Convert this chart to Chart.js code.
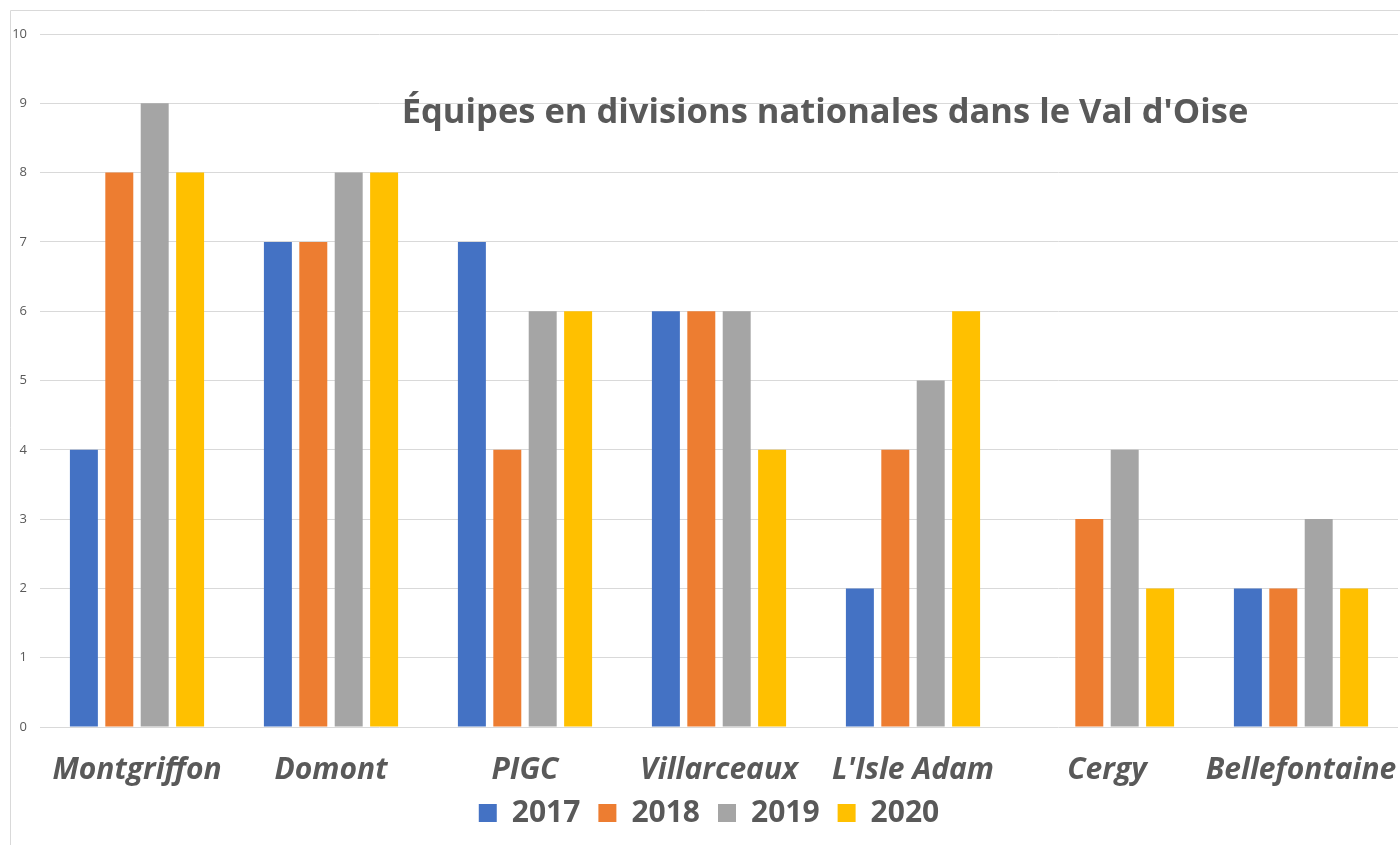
<!DOCTYPE html>
<html>
<head>
<meta charset="utf-8">
<script src="https://cdn.jsdelivr.net/npm/chart.js@4.4.1/dist/chart.umd.min.js"></script>
<style>
  html, body { margin: 0; padding: 0; background: #fff; }
  #wrap { position: relative; width: 1400px; height: 845px; }
</style>
</head>
<body>
<div id="wrap"><canvas id="chart" width="1400" height="845"></canvas></div>
<script>
const clubs = ["Montgriffon", "Domont", "PIGC", "Villarceaux", "L'Isle Adam", "Cergy", "Bellefontaine"];
const years = ["2017", "2018", "2019", "2020"];
const teams2017 = [4, 7, 7, 6, 2, null, 2];
const teams2018 = [8, 7, 4, 6, 4, 3, 2];
const teams2019 = [9, 8, 6, 6, 5, 4, 3];
const teams2020 = [8, 8, 6, 4, 6, 2, 2];
const yTicks = [0, 1, 2, 3, 4, 5, 6, 7, 8, 9, 10];
const titleText = "Équipes en divisions nationales dans le Val d'Oise";

const colors = ["#4472C4", "#ED7D31", "#A5A5A5", "#FFC000"];
const textGray = "#595959";
const gridGray = "#d9d9d9";
const FONT = "'Open Sans'";

// Excel-style frame, title floating inside the plot, legend/label nudges
const decorPlugin = {
  id: "decor",
  afterLayout(chart) {
    const lg = chart.legend;
    lg.left += 10; lg.right += 10;
    lg.top -= 7; lg.bottom -= 7;
    chart.scales.x.bottom += 25; // don't clip descenders of the x labels
  },
  beforeDraw(chart) {
    const ctx = chart.ctx;
    ctx.save();
    ctx.strokeStyle = gridGray;
    ctx.lineWidth = 1;
    ctx.beginPath();
    ctx.moveTo(10.5, 845);
    ctx.lineTo(10.5, 10.5);
    ctx.lineTo(1400, 10.5);
    ctx.stroke();
    ctx.restore();
  },
  afterDraw(chart) {
    const { ctx, chartArea } = chart;
    ctx.save();
    ctx.font = "bold 34.5px " + FONT;
    ctx.fillStyle = textGray;
    ctx.textAlign = "center";
    ctx.textBaseline = "middle";
    ctx.fillText(titleText, chartArea.left + 785, chartArea.top + 79);
    ctx.restore();
  }
};

const seriesValues = [teams2017, teams2018, teams2019, teams2020];

new Chart(document.getElementById("chart"), {
  type: "bar",
  data: {
    labels: clubs,
    datasets: years.map((y, i) => ({
      label: y,
      data: seriesValues[i],
      backgroundColor: colors[i],
      borderWidth: 0,
      categoryPercentage: 0.73,
      barPercentage: 0.79,
    })),
  },
  options: {
    responsive: false,
    animation: false,
    layout: { padding: { top: 34, left: 0, right: 2, bottom: 0 } },
    plugins: {
      title: { display: false },
      tooltip: { enabled: false },
      legend: {
        position: "bottom",
        labels: {
          boxWidth: 18,
          boxHeight: 18,
          padding: 18,
          color: textGray,
          font: { family: FONT, size: 30, weight: "bold" },
        },
      },
    },
    scales: {
      x: {
        grid: { display: false, drawTicks: false },
        border: { display: false },
        ticks: {
          color: textGray,
          padding: 25,
          maxRotation: 0,
          autoSkip: false,
          font: { family: FONT, size: 30, weight: "bold", style: "italic" },
        },
        afterFit(scale) {
          scale.height = 60;
          scale.paddingLeft = 0;
          scale.paddingRight = 0;
        },
      },
      y: {
        min: 0,
        max: 10,
        afterBuildTicks(scale) { scale.ticks = yTicks.map(v => ({ value: v })); },
        grid: { color: gridGray, lineWidth: 1, drawTicks: false },
        border: { display: false },
        ticks: {
          color: textGray,
          padding: 13,
          font: { family: FONT, size: 13 },
        },
        afterFit(scale) { scale.width = 40; },
      },
    },
  },
  plugins: [decorPlugin],
});
</script>
</body>
</html>
